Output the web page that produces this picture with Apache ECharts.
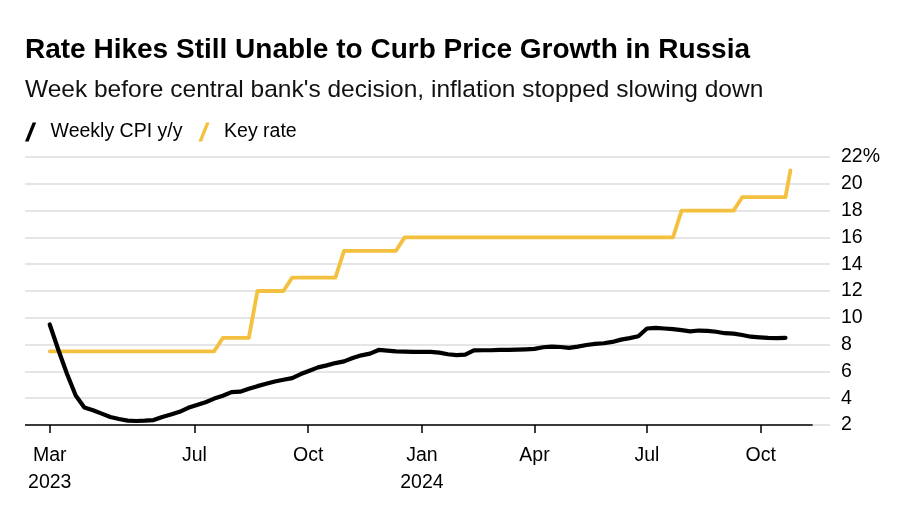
<!DOCTYPE html>
<html>
<head>
<meta charset="utf-8">
<script src="https://cdn.jsdelivr.net/npm/echarts@6/dist/echarts.min.js"></script>
<style>
  html, body { margin: 0; padding: 0; background: #fff; }
  #chart { width: 900px; height: 510px; }
</style>
</head>
<body>
<div id="chart"></div>
<script>
// ---- data ----
var titleText = 'Rate Hikes Still Unable to Curb Price Growth in Russia';
var subtitleText = "Week before central bank's decision, inflation stopped slowing down";
var seriesNames = ['Weekly CPI y/y', 'Key rate'];

// weekly CPI y/y, one value per week starting Monday 2023-03-06
var cpiStart = '2023-03-06';
var cpiValues = [
  9.5, 7.6, 5.8, 4.2, 3.3, 3.1, 2.85, 2.6, 2.45, 2.33,
  2.3, 2.32, 2.37, 2.6, 2.78, 2.98, 3.28, 3.5, 3.7, 3.97,
  4.18, 4.45, 4.49, 4.7, 4.9, 5.08, 5.25, 5.38, 5.5, 5.8,
  6.05, 6.3, 6.45, 6.62, 6.75, 7.0, 7.2, 7.33, 7.6, 7.55,
  7.5, 7.48, 7.45, 7.46, 7.46, 7.4, 7.28, 7.22, 7.25, 7.57,
  7.58, 7.58, 7.6, 7.6, 7.62, 7.65, 7.68, 7.8, 7.85, 7.82,
  7.75, 7.85, 7.97, 8.05, 8.1, 8.2, 8.37, 8.48, 8.62, 9.2,
  9.25, 9.2, 9.16, 9.08, 8.99, 9.05, 9.02, 8.96, 8.85, 8.82,
  8.72, 8.59, 8.54, 8.5, 8.48, 8.5
];

// key rate (weekly observations around each decision)
var keyDates = ['2023-03-06','2023-07-17','2023-07-24','2023-08-14','2023-08-21','2023-09-11','2023-09-18',
  '2023-10-23','2023-10-30','2023-12-11','2023-12-18','2024-07-22','2024-07-29','2024-09-09','2024-09-16',
  '2024-10-21','2024-10-25'];
var keyValues = [7.5, 7.5, 8.5, 8.5, 12, 12, 13, 13, 15, 15, 16, 16, 18, 18, 19, 19, 21];

var tickDates = ['2023-03-06','2023-07-01','2023-10-01','2024-01-01','2024-04-01','2024-07-01','2024-10-01'];
var tickLabels = ['Mar\n2023','Jul','Oct','Jan\n2024','Apr','Jul','Oct'];
var xMinDate = '2023-02-14';
var xMaxDate = '2024-11-26';
var axisEndDate = '2024-11-12';
var yMin = 2, yMax = 22, yStep = 2;

// ---- helpers ----
function day(s) { var p = s.split('-'); return new Date(+p[0], +p[1] - 1, +p[2]).getTime(); }
var DAY = 86400000;
var startTs = day(cpiStart);
var cpiData = cpiValues.map(function (v, i) {
  var d = new Date(startTs); d.setDate(d.getDate() + 7 * i);
  return [d.getTime(), v];
});
var keyData = keyDates.map(function (d, i) { return [day(d), keyValues[i]]; });
var tickTs = tickDates.map(day);

var font = '"Liberation Sans", Arial, Helvetica, sans-serif';
var chart = echarts.init(document.getElementById('chart'), null, { renderer: 'canvas' });
chart.setOption({
  animation: false,
  backgroundColor: '#ffffff',
  textStyle: { fontFamily: font },
  title: [
    { text: titleText, left: 20, top: 31,
      textStyle: { fontFamily: font, fontSize: 28, fontWeight: 'bold', color: '#000' } },
    { text: subtitleText, left: 20, top: 73,
      textStyle: { fontFamily: font, fontSize: 24.5, fontWeight: 'normal', color: '#111' } }
  ],
  legend: {
    left: 20, top: 117, itemGap: 16, itemWidth: 12, itemHeight: 19,
    selectedMode: false,
    textStyle: { fontFamily: font, fontSize: 19.5, color: '#000', padding: [0, 0, 0, 9] },
    data: [
      { name: seriesNames[0], icon: 'path://M0,20 L8,0 L11.8,0 L3.8,20 Z', itemStyle: { color: '#000' } },
      { name: seriesNames[1], icon: 'path://M0,20 L8,0 L11.8,0 L3.8,20 Z', itemStyle: { color: '#F3C13F' } }
    ]
  },
  grid: { left: 25, right: 70, top: 157, bottom: 85, containLabel: false },
  xAxis: {
    type: 'value',
    min: day(xMinDate), max: day(xMaxDate),
    axisLine: { show: false },
    splitLine: { show: false },
    axisTick: { show: true, customValues: tickTs, length: 8, lineStyle: { color: '#000', width: 1.5 } },
    axisLabel: {
      customValues: tickTs, margin: 17, fontSize: 19.5, color: '#000', lineHeight: 27,
      fontFamily: font,
      formatter: function (v) {
        for (var i = 0; i < tickTs.length; i++) { if (Math.abs(tickTs[i] - v) < DAY / 2) return tickLabels[i]; }
        return '';
      }
    }
  },
  yAxis: {
    type: 'value', position: 'right', min: yMin, max: yMax, interval: yStep,
    axisLine: { show: false }, axisTick: { show: false },
    splitLine: { lineStyle: { color: '#dcdcdc', width: 1.5 } },
    axisLabel: {
      margin: 11, fontSize: 19.5, color: '#000', fontFamily: font,
      formatter: function (v) { return v === yMax ? v + '%' : String(v); }
    }
  },
  series: [
    {
      name: seriesNames[0], type: 'line', data: cpiData, showSymbol: false, z: 4,
      lineStyle: { color: '#000', width: 4.2, join: 'round', cap: 'round' },
      itemStyle: { color: '#000' },
      markLine: {
        silent: true, symbol: 'none', label: { show: false },
        lineStyle: { color: '#000', width: 1.5, type: 'solid' },
        data: [[{ coord: [day(xMinDate), yMin] }, { coord: [day(axisEndDate), yMin] }]]
      }
    },
    {
      name: seriesNames[1], type: 'line', data: keyData, showSymbol: false, z: 3,
      lineStyle: { color: '#F3C13F', width: 3.8, join: 'round', cap: 'round' },
      itemStyle: { color: '#F3C13F' }
    }
  ]
});
</script>
</body>
</html>
